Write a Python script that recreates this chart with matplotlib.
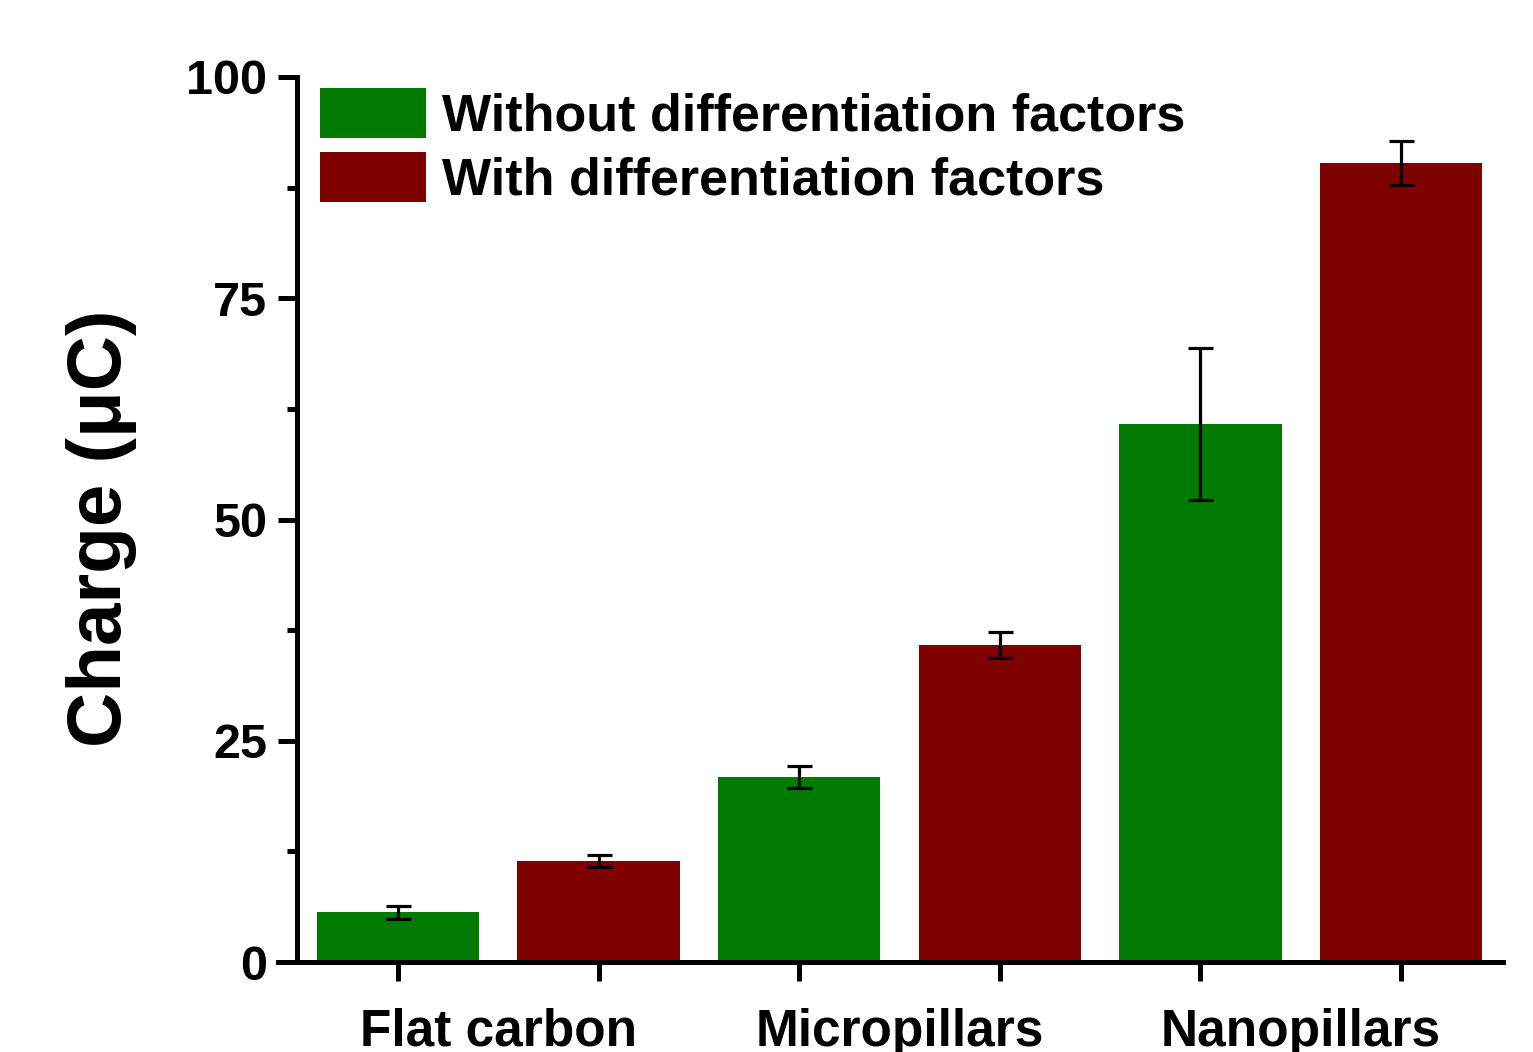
#!/usr/bin/env python3
"""
Bar chart of stored charge for the three electrode surfaces,
with and without differentiation factors.
"""

import matplotlib
matplotlib.use('Agg')
import matplotlib.pyplot as plt
import numpy as np

# data
groups = ['Flat carbon', 'Micropillars', 'Nanopillars']
series_names = ['Without differentiation factors', 'With differentiation factors']
without_vals = [5.6, 20.9, 60.8]
without_err = [0.75, 1.25, 8.6]
with_vals = [11.4, 35.8, 90.3]
with_err = [0.7, 1.45, 2.45]
yticks = [0, 25, 50, 75, 100]

GREEN = '#007A00'
RED = '#7F0000'
W, H = 1533, 1052


def plot_charge():
    plt.rcParams['font.family'] = ['Liberation Sans', 'DejaVu Sans']
    plt.rcParams['font.weight'] = 'bold'

    fig = plt.figure(figsize=(W / 100, H / 100), dpi=100)
    ax = fig.add_axes([278 / W, 90 / H, (1503 - 278) / W, (962 - 77) / H])

    # bars alternate: green, red for each group
    n = len(groups)
    x_green = np.arange(n) * 2
    x_red = x_green + 1
    bw = 0.81
    ekw = dict(elinewidth=2.3, capthick=2.3, capsize=9, ecolor='black')
    ax.bar(x_green, without_vals, bw, yerr=without_err, color=GREEN,
           label=series_names[0], error_kw=ekw, zorder=2)
    ax.bar(x_red, with_vals, bw, yerr=with_err, color=RED,
           label=series_names[1], error_kw=ekw, zorder=2)

    ax.set_xlim(-0.598, 5.508)
    ax.set_ylim(0, 100)

    # Origin-like axes: only left and bottom, left axis moved in a little
    for s in ['top', 'right']:
        ax.spines[s].set_visible(False)
    for s in ['left', 'bottom']:
        ax.spines[s].set_linewidth(3.6)
    ax.spines['left'].set_position(('data', -0.5035))

    ax.set_yticks(yticks)
    ax.set_yticks([12.5, 37.5, 62.5, 87.5], minor=True)
    ax.tick_params(axis='y', which='major', length=13.5, width=3.6,
                   labelsize=35, pad=8)
    ax.tick_params(axis='y', which='minor', length=7, width=3.6)

    ax.set_xticks(np.arange(2 * n))
    ax.set_xticklabels([])
    ax.set_xticks(x_green + 0.5, minor=True)
    ax.set_xticklabels(groups, minor=True)
    ax.tick_params(axis='x', which='major', length=13.5, width=3.6)
    ax.tick_params(axis='x', which='minor', length=0, labelsize=37, pad=33)

    ax.set_ylabel('Charge (μC)', fontsize=55, fontweight='bold')
    ax.yaxis.set_label_coords(-0.115, 0.49)

    ax.legend(loc='upper left', bbox_to_anchor=(0.034, 0.988),
              frameon=False, fontsize=37.5, handlelength=2.05,
              handleheight=1.1, handletextpad=0.3, labelspacing=0.2,
              borderaxespad=0, borderpad=0)

    fig.savefig('out.png', dpi=100)


if __name__ == '__main__':
    plot_charge()
